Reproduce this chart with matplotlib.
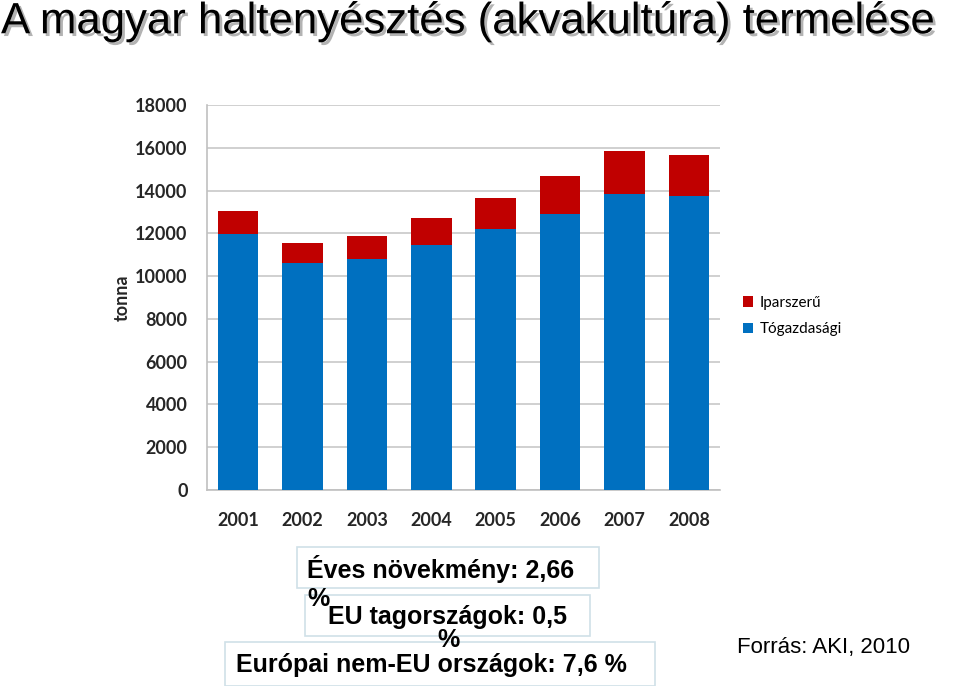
import matplotlib
matplotlib.use("Agg")
import matplotlib.pyplot as plt
import matplotlib.patheffects as pe
import numpy as np
from matplotlib.patches import Rectangle

# values (tonna)
years = ["2001", "2002", "2003", "2004", "2005", "2006", "2007", "2008"]
togazdasagi = [11950, 10620, 10800, 11450, 12200, 12900, 13860, 13730]
iparszeru = [1080, 940, 1060, 1280, 1450, 1770, 1985, 1955]
yticks = [0, 2000, 4000, 6000, 8000, 10000, 12000, 14000, 16000, 18000]

title = "A magyar haltenyésztés (akvakultúra) termelése"
source = "Forrás: AKI, 2010"

W, H = 960, 686
fig = plt.figure(figsize=(W / 100, H / 100), dpi=100)
fig.patch.set_facecolor("white")

def fx(px):
    return px / W

def fy(py):
    return 1 - py / H

# title with soft shadow
fig.text(fx(1), fy(21), title, fontsize=31.5, color="black",
         family="Liberation Sans", va="center", ha="left",
         path_effects=[pe.withSimplePatchShadow(offset=(2, -2), shadow_rgbFace="#a0a0a0", alpha=0.8)])

ax = fig.add_axes([fx(207), fy(490), fx(720) - fx(207), fy(105) - fy(490)])
x = np.arange(len(years))
ax.bar(x, togazdasagi, width=0.63, color="#0070C0", label="Tógazdasági", zorder=3)
ax.bar(x, iparszeru, width=0.63, bottom=togazdasagi, color="#C00000",
       label="Iparszerű", zorder=3)

ax.set_xlim(-0.48, len(years) - 0.52)
ax.set_ylim(0, 18000)
ax.set_yticks(yticks)
ax.set_yticklabels([str(v) for v in yticks])
ax.set_xticks(x)
ax.set_xticklabels(years)
ax.yaxis.grid(True, color="#c8c8c8", linewidth=1.2, zorder=0)
for s in ["top", "right"]:
    ax.spines[s].set_visible(False)
for s in ["left", "bottom"]:
    ax.spines[s].set_color("#c0c0c0")
    ax.spines[s].set_linewidth(1.2)
ax.tick_params(axis="y", length=0, labelsize=13, labelcolor="#262626", pad=14)
ax.tick_params(axis="x", length=0, labelsize=13, labelcolor="#262626", pad=16)
for lab in ax.get_xticklabels() + ax.get_yticklabels():
    lab.set_fontweight("bold")
    lab.set_family("Lato")
ax.set_ylabel("tonna", fontsize=13, fontweight="bold", family="Lato",
              color="#262626", labelpad=3)

h, l = ax.get_legend_handles_labels()
fig.legend(h[::-1], l[::-1], loc="center left", bbox_to_anchor=(fx(729), fy(316)),
           frameon=False, prop={"family": "Lato", "size": 11},
           handlelength=0.7, handleheight=0.7, handletextpad=0.4, labelspacing=0.85)

# text boxes below the chart
boxes = [(297, 547, 599, 588), (305, 595, 590, 636), (225, 642, 655, 686)]
for x0, y0, x1, y1 in boxes:
    fig.patches.append(Rectangle((fx(x0), fy(y1)), fx(x1) - fx(x0), fy(y0) - fy(y1),
                                 transform=fig.transFigure, facecolor="white",
                                 edgecolor="#d0e0e8", linewidth=1.2))

tkw = dict(fontsize=18, fontweight="bold", family="Liberation Sans", va="center")
fig.text(fx(307), fy(569), "Éves növekmény: 2,66", **tkw)
fig.text(fx(307), fy(599), "%", **tkw)
fig.text(fx(328), fy(617), "EU tagországok: 0,5", **tkw)
fig.text(fx(437), fy(640), "%", **tkw)
fig.text(fx(236), fy(665), "Európai nem-EU országok: 7,6 %", **tkw)

fig.text(fx(737), fy(647), source, fontsize=16, family="Liberation Sans", va="center")

fig.savefig("out.png", dpi=100)
